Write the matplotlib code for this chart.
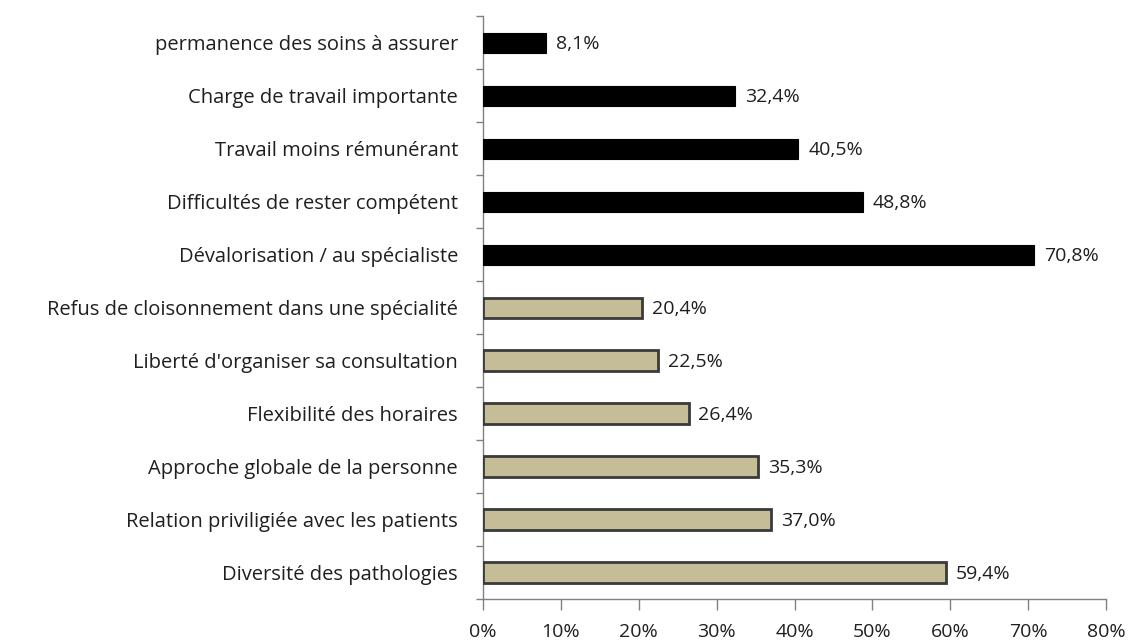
import matplotlib
matplotlib.use("Agg")
import matplotlib.pyplot as plt
import numpy as np

categories = [
    "permanence des soins à assurer",
    "Charge de travail importante",
    "Travail moins rémunérant",
    "Difficultés de rester compétent",
    "Dévalorisation / au spécialiste",
    "Refus de cloisonnement dans une spécialité",
    "Liberté d'organiser sa consultation",
    "Flexibilité des horaires",
    "Approche globale de la personne",
    "Relation priviligiée avec les patients",
    "Diversité des pathologies",
]
values = [8.1, 32.4, 40.5, 48.8, 70.8, 20.4, 22.5, 26.4, 35.3, 37.0, 59.4]
groups = ["neg"] * 5 + ["pos"] * 6
value_labels = ["8,1%", "32,4%", "40,5%", "48,8%", "70,8%", "20,4%", "22,5%",
                "26,4%", "35,3%", "37,0%", "59,4%"]
xticks = [0, 10, 20, 30, 40, 50, 60, 70, 80]
xtick_labels = ["0%", "10%", "20%", "30%", "40%", "50%", "60%", "70%", "80%"]

plt.rcParams['font.family'] = ['Open Sans', 'DejaVu Sans']
text_color = "#1f1f1f"

fig = plt.figure(figsize=(11.31, 6.44), dpi=100)
ax = fig.add_axes([0.427, 0.0699, 0.551, 0.905])

n = len(categories)
y = np.arange(n)[::-1]
face = {"neg": "#000000", "pos": "#C4BD97"}
edge = {"neg": "#000000", "pos": "#3a3a3a"}
for yi, v, g in zip(y, values, groups):
    ax.barh(yi, v, height=0.38, color=face[g], edgecolor=edge[g],
            linewidth=2.0 if g == "pos" else 0.8, zorder=3)
for yi, v, lab in zip(y, values, value_labels):
    ax.annotate(lab, (v, yi), xytext=(7, -1), textcoords="offset points",
                va="center", ha="left", fontsize=14, color=text_color)

ax.set_ylim(-0.5, n - 0.5)
ax.set_xlim(0, 80)
ax.set_xticks(xticks)
ax.set_xticklabels(xtick_labels, fontsize=14, color=text_color)
ax.set_yticks(y)
ax.set_yticklabels(categories, fontsize=14.5, color=text_color)
ax.set_yticks(np.arange(n + 1) - 0.5, minor=True)
ax.tick_params(axis='y', which='major', length=0, pad=18)
ax.tick_params(axis='y', which='minor', length=5, color="#808080", width=1)
ax.tick_params(axis='x', length=8, color="#808080", width=1, pad=9)
for s in ["top", "right"]:
    ax.spines[s].set_visible(False)
for s in ["left", "bottom"]:
    ax.spines[s].set_color("#808080")
    ax.spines[s].set_linewidth(1)

fig.savefig("out.png", dpi=100)
